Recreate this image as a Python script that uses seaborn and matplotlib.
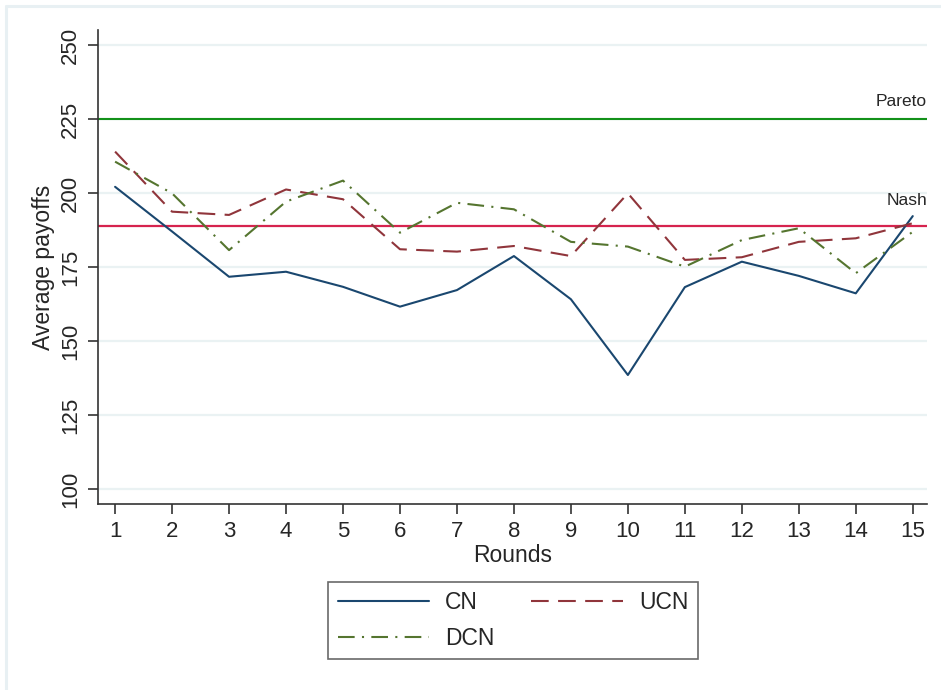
import numpy as np
import pandas as pd
import matplotlib
matplotlib.use("Agg")
import matplotlib.pyplot as plt
import seaborn as sns
from matplotlib.lines import Line2D

# --- Data ---
rounds = list(range(1, 16))
cn = [202.1, 187.0, 171.7, 173.4, 168.3, 161.6, 167.2, 178.7, 164.1, 138.5, 168.2, 176.8, 172.0, 166.1, 192.2]
ucn = [214.0, 193.7, 192.6, 201.2, 197.9, 181.0, 180.2, 182.1, 178.7, 199.9, 177.4, 178.3, 183.5, 184.7, 189.8]
dcn = [210.6, 199.9, 180.7, 197.1, 204.2, 186.6, 196.7, 194.5, 183.5, 181.9, 175.1, 184.1, 188.1, 172.9, 186.9]
series_names = ["CN", "UCN", "DCN"]
pareto = 225
nash = 189
y_ticks = [100, 125, 150, 175, 200, 225, 250]

# --- Style ---
sns.set_theme(style="white")
plt.rcParams["font.family"] = ["Liberation Sans", "DejaVu Sans"]

palette = {"CN": "#1a476f", "UCN": "#90353b", "DCN": "#55752f"}
dashes = {"CN": "", "UCN": (8.5, 4.5), "DCN": (8, 3.5, 1, 3.5)}

df = pd.DataFrame({
    "Rounds": rounds * 3,
    "payoff": cn + ucn + dcn,
    "group": ["CN"] * 15 + ["UCN"] * 15 + ["DCN"] * 15,
})

fig = plt.figure(figsize=(9.41, 6.90), dpi=100)
ax = fig.add_axes([98 / 941, 1 - 504 / 690, 829 / 941, 474 / 690])

# light grid at the y ticks
for yv in y_ticks:
    ax.axhline(yv, color="#eaf2f3", lw=1.6, zorder=0)

ax.axhline(pareto, color="#13911a", lw=1.5, zorder=1)
ax.axhline(nash, color="#d6234e", lw=1.6, zorder=1)

sns.lineplot(data=df, x="Rounds", y="payoff", hue="group", style="group",
             hue_order=series_names, style_order=series_names,
             palette=palette, dashes=dashes, linewidth=1.5, ax=ax, legend=False, zorder=3)

ax.set_xlim(0.70, 15.25)
ax.set_ylim(94.9, 255.1)
ax.set_xticks(rounds)
ax.set_yticks(y_ticks)
ax.set_yticklabels([str(v) for v in y_ticks], rotation=90, va="center")
ax.tick_params(axis="both", labelsize=16, length=7, width=1.2, color="#333333",
               direction="out", left=True, bottom=True)
ax.tick_params(axis="x", pad=5)
ax.tick_params(axis="y", pad=5)

for side in ["top", "right"]:
    ax.spines[side].set_visible(False)
for side in ["left", "bottom"]:
    ax.spines[side].set_color("#333333")
    ax.spines[side].set_linewidth(1.2)

ax.set_xlabel("Rounds", fontsize=16.5, labelpad=2)
ax.set_ylabel("Average payoffs", fontsize=16.5, labelpad=4)

ax.text(15.25, 228.3, "Pareto", ha="right", va="bottom", fontsize=12.5)
ax.text(15.25, 195.0, "Nash", ha="right", va="bottom", fontsize=12.5)

# legend: matplotlib fills columns first, so order handles to read row-wise CN, UCN / DCN
handles = {
    "CN": Line2D([], [], color=palette["CN"], lw=1.5),
    "UCN": Line2D([], [], color=palette["UCN"], lw=1.5, dashes=dashes["UCN"]),
    "DCN": Line2D([], [], color=palette["DCN"], lw=1.5, dashes=dashes["DCN"]),
}
leg_order = ["CN", "DCN", "UCN"]
leg = fig.legend([handles[n] for n in leg_order], leg_order, ncol=2, loc="center",
                 bbox_to_anchor=(513 / 941, 1 - 620.5 / 690), fontsize=16.5,
                 handlelength=4.0, handletextpad=0.7, columnspacing=1.6,
                 labelspacing=0.55, borderpad=0.4, fancybox=False, frameon=True)
leg.get_frame().set_edgecolor("#444444")
leg.get_frame().set_linewidth(1.2)

# outer graph-region frame (light), cut at right and bottom like the reference
fig.add_artist(Line2D([5.5 / 941, 5.5 / 941], [0, 1 - 5.5 / 690], transform=fig.transFigure,
                      color="#e8f0f3", lw=2.2))
fig.add_artist(Line2D([5.5 / 941, 1], [1 - 5.5 / 690, 1 - 5.5 / 690], transform=fig.transFigure,
                      color="#e8f0f3", lw=2.2))

fig.savefig("out.png", dpi=100)
